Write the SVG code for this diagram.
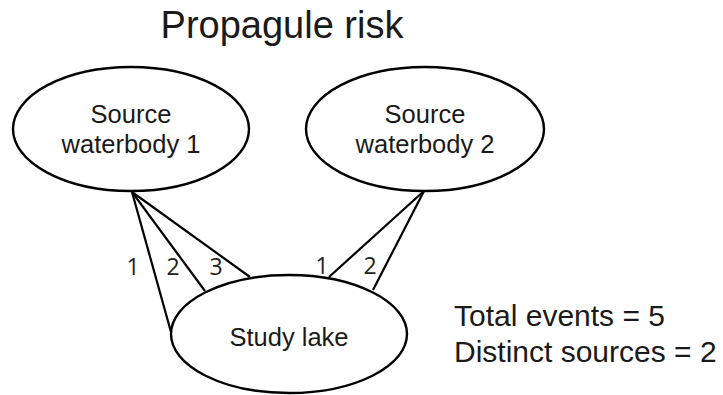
<svg xmlns="http://www.w3.org/2000/svg" width="723" height="395" viewBox="0 0 723 395">
<style>
.node{fill:#fff;stroke:#000;stroke-width:2.4}
.lbl{font-family:"Liberation Sans",Arial,sans-serif;fill:#1a1a1a;text-anchor:middle}
.nt{font-size:25.5px}
.num{font-size:23px;font-family:"Open Sans","Liberation Sans",sans-serif;fill:#222;text-anchor:middle}
.edge{stroke:#000;stroke-width:2.2;fill:none}
.side{font-family:"Liberation Sans",Arial,sans-serif;font-size:30px;fill:#1a1a1a}
</style>
<rect width="723" height="395" fill="#fff"/>
<text class="lbl" x="282" y="38" style="font-size:38px">Propagule risk</text>
<g id="connectors">
<line class="edge" x1="132" y1="192" x2="171" y2="332"/>
<line class="edge" x1="132" y1="192" x2="205" y2="291"/>
<line class="edge" x1="132" y1="192" x2="250" y2="277"/>
<line class="edge" x1="424" y1="191" x2="329" y2="277"/>
<line class="edge" x1="424" y1="191" x2="373" y2="290"/>
<text class="num" x="133" y="275">1</text>
<text class="num" x="173" y="275">2</text>
<text class="num" x="216" y="275">3</text>
<text class="num" x="322" y="274">1</text>
<text class="num" x="370" y="274">2</text>
</g>
<g id="source1">
<ellipse class="node" cx="131" cy="129" rx="118" ry="62"/>
<text class="lbl nt" x="131" y="123">Source</text>
<text class="lbl nt" x="131" y="153">waterbody 1</text>
</g>
<g id="source2">
<ellipse class="node" cx="425" cy="129" rx="119" ry="62"/>
<text class="lbl nt" x="425" y="123">Source</text>
<text class="lbl nt" x="425" y="153">waterbody 2</text>
</g>
<g id="study">
<ellipse class="node" cx="289" cy="334" rx="118" ry="59"/>
<text class="lbl nt" x="289" y="346">Study lake</text>
</g>
<g id="summary">
<text class="side" x="454" y="326">Total events = 5</text>
<text class="side" x="454" y="362">Distinct sources = 2</text>
</g>
</svg>
